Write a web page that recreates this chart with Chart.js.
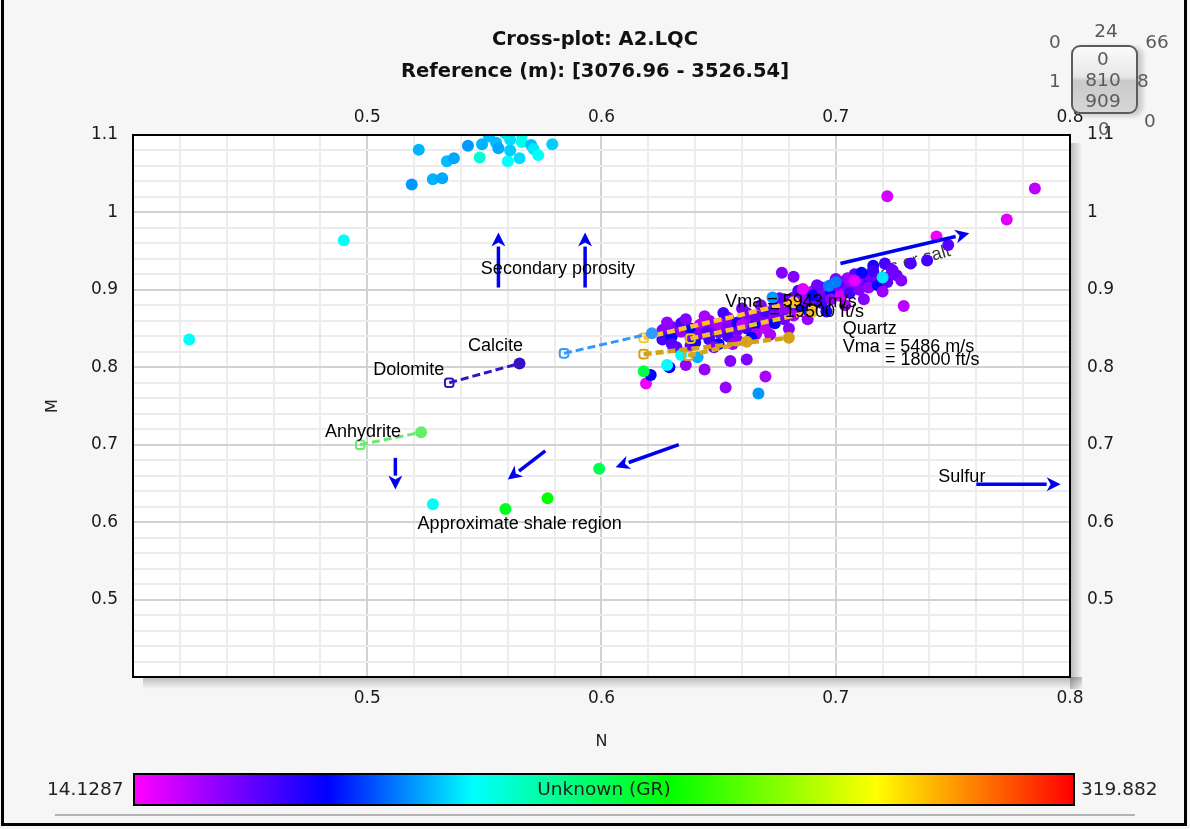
<!DOCTYPE html>
<html>
<head>
<meta charset="utf-8">
<script src="https://cdn.jsdelivr.net/npm/chart.js@4.4.1/dist/chart.umd.min.js"></script>
<style>
html, body { margin: 0; padding: 0; }
body { width: 1190px; height: 829px; background: #f6f6f6; position: relative; overflow: hidden; font-family: "DejaVu Sans", sans-serif; }
#chart { position: absolute; left: 0; top: 0; }
.frame { position: absolute; left: 1px; top: -4px; width: 1180px; height: 824px; border: 3px solid #000; }
.title { position: absolute; left: 0; width: 1190px; text-align: center; font-weight: bold; font-size: 19.5px; color: #111; }
.cbar { position: absolute; left: 133px; top: 773px; width: 938px; height: 29px; border: 2px solid #000; }
.cbar span { position: absolute; left: 0; width: 100%; top: 3px; text-align: center; font-size: 18.5px; color: #222; }
.cval { position: absolute; top: 778px; font-size: 18.5px; color: #222; }
.sep { position: absolute; left: 55px; top: 814px; width: 1080px; height: 2px; background: #b4b4b4; }
.knob { position: absolute; left: 1071px; top: 45px; width: 63px; height: 65px; border: 2px solid #5c5c5c; border-radius: 9px;
        background: linear-gradient(#fbfbfb 0%, #e6e6e6 46%, #c9c9c9 52%, #d6d6d6 100%); box-shadow: 5px 2px 5px rgba(0,0,0,0.18); }
.kn { position: absolute; font-size: 18.5px; color: #5a5a5a; transform: translate(-50%, -50%); white-space: nowrap; }
</style>
</head>
<body>
<canvas id="chart" width="1190" height="829"></canvas>
<div class="frame"></div>
<div class="title" style="top:27px">Cross-plot: A2.LQC</div>
<div class="title" style="top:59px">Reference (m): [3076.96 - 3526.54]</div>
<div class="cbar" id="cbar"><span>Unknown (GR)</span></div>
<div class="cval" style="left:47px">14.1287</div>
<div class="cval" style="left:1081px">319.882</div>
<div class="sep"></div>
<div class="knob"></div>
<div class="kn" style="left:1106px;top:30px">24</div>
<div class="kn" style="left:1055px;top:41px">0</div>
<div class="kn" style="left:1157px;top:41px">66</div>
<div class="kn" style="left:1055px;top:80px">1</div>
<div class="kn" style="left:1143px;top:80px">8</div>
<div class="kn" style="left:1150px;top:120px">0</div>
<div class="kn" style="left:1104px;top:128px">0</div>
<div class="kn" style="left:1103px;top:58px">0</div>
<div class="kn" style="left:1103px;top:79px">810</div>
<div class="kn" style="left:1103px;top:100px">909</div>
<script>
// ---------- colour scale (GR) ----------
const grMin = 14.1287;
const grMax = 319.882;
const cmapStops = [0, 0.205, 0.36, 0.57, 0.79, 1];
const cmapColors = [[255, 0, 255], [0, 0, 255], [0, 255, 255], [0, 255, 0], [255, 255, 0], [255, 0, 0]];

// ---------- axis ranges ----------
const nRange = [0.4, 0.8];
const mRange = [0.4, 1.1];

// ---------- log samples: N, M, GR ----------
const pointN = [
  // upper cluster
  0.522, 0.519, 0.528, 0.532, 0.534, 0.537, 0.543, 0.548, 0.549, 0.555, 0.556, 0.561, 0.560, 0.561, 0.566,
  0.565, 0.570, 0.571, 0.573, 0.579, 0.559, 0.566, 0.552, 0.490, 0.424,
  // shale region
  0.528, 0.559, 0.577, 0.599,
  // upper right
  0.722, 0.785, 0.773, 0.743, 0.748, 0.739, 0.732, 0.721, 0.716, 0.729,
  // main trend
  0.626, 0.626, 0.630, 0.630, 0.630, 0.634, 0.634, 0.638, 0.638, 0.638, 0.642, 0.642, 0.646, 0.646, 0.646,
  0.650, 0.650, 0.650, 0.654, 0.654, 0.654, 0.658, 0.658, 0.658, 0.662, 0.662, 0.662, 0.666, 0.666, 0.666,
  0.670, 0.670, 0.670, 0.674, 0.674, 0.674, 0.678, 0.678, 0.678, 0.682, 0.682, 0.682, 0.686, 0.686, 0.686,
  0.690, 0.690, 0.690, 0.694, 0.694, 0.694, 0.698, 0.698, 0.698, 0.702, 0.702, 0.702, 0.706, 0.706, 0.706,
  0.710, 0.710, 0.710, 0.714, 0.714, 0.714, 0.718, 0.718, 0.722, 0.722, 0.726,
  0.628, 0.632, 0.636, 0.640, 0.644, 0.648, 0.652, 0.656, 0.660, 0.664, 0.668, 0.672, 0.676, 0.680, 0.684,
  0.688, 0.692, 0.696, 0.700, 0.704, 0.708, 0.712, 0.716, 0.720, 0.724, 0.728, 0.690, 0.705, 0.660, 0.645,
  // scattered around the trend
  0.677, 0.682, 0.619, 0.621, 0.618, 0.629, 0.628, 0.636, 0.634, 0.641, 0.644, 0.655, 0.662, 0.670, 0.653,
  0.667, 0.711, 0.720, 0.700, 0.697, 0.708, 0.686, 0.673
];
const pointM = [
  1.081, 1.036, 1.043, 1.044, 1.066, 1.070, 1.086, 1.071, 1.088, 1.090, 1.083, 1.094, 1.066, 1.080, 1.091,
  1.070, 1.087, 1.082, 1.074, 1.088, 1.102, 1.100, 1.098, 0.964, 0.836,
  0.623, 0.617, 0.631, 0.669,
  1.021, 1.031, 0.991, 0.969, 0.958, 0.938, 0.934, 0.934, 0.931, 0.879,
  0.848, 0.836, 0.852, 0.840, 0.830, 0.846, 0.857, 0.838, 0.850, 0.828, 0.855, 0.843, 0.836, 0.850, 0.860,
  0.845, 0.830, 0.856, 0.852, 0.840, 0.864, 0.848, 0.858, 0.835, 0.862, 0.850, 0.870, 0.856, 0.843, 0.866,
  0.860, 0.872, 0.850, 0.868, 0.880, 0.857, 0.875, 0.862, 0.888, 0.878, 0.867, 0.890, 0.884, 0.872, 0.895,
  0.888, 0.878, 0.898, 0.893, 0.883, 0.903, 0.897, 0.888, 0.906, 0.900, 0.892, 0.910, 0.904, 0.896, 0.912,
  0.907, 0.900, 0.916, 0.910, 0.903, 0.919, 0.913, 0.906, 0.916, 0.910, 0.919,
  0.858, 0.826, 0.862, 0.832, 0.866, 0.826, 0.870, 0.830, 0.876, 0.838, 0.880, 0.842, 0.889, 0.850, 0.899,
  0.862, 0.906, 0.872, 0.914, 0.880, 0.920, 0.888, 0.924, 0.898, 0.926, 0.912, 0.893, 0.915, 0.855, 0.845,
  0.922, 0.917, 0.779, 0.790, 0.795, 0.800, 0.803, 0.803, 0.816, 0.813, 0.797, 0.808, 0.810, 0.788, 0.774,
  0.766, 0.922, 0.916, 0.910, 0.905, 0.912, 0.901, 0.890
];
const pointGR = [
  110, 105, 110, 108, 112, 108, 105, 135, 110, 112, 108, 118, 124, 115, 130,
  118, 112, 120, 126, 115, 120, 128, 112, 126, 126,
  126, 180, 190, 168,
  25, 30, 22, 18, 55, 60, 58, 60, 70, 30,
  45, 60, 45, 77, 55, 40, 60, 45, 77, 50, 30, 45, 60, 45, 40,
  50, 77, 35, 45, 60, 40, 50, 70, 45, 40, 60, 45, 77, 35, 50,
  45, 60, 30, 45, 55, 77, 40, 50, 45, 60, 35, 50, 45, 77, 40,
  55, 45, 30, 50, 60, 45, 77, 40, 50, 45, 25, 55, 45, 60, 40,
  50, 45, 35, 60, 40, 50, 45, 77, 45, 55, 50,
  40, 55, 45, 72, 35, 45, 60, 40, 50, 77, 45, 35, 55, 45, 60,
  40, 50, 72, 45, 35, 55, 45, 60, 40, 50, 45, 77, 40, 30, 55,
  45, 45, 18, 77, 170, 77, 124, 40, 124, 110, 40, 45, 45, 35, 40,
  105, 77, 120, 100, 100, 20, 20, 105
];

// ---------- lithology lines (open start -> filled end) ----------
const lithStartN = [0.535, 0.584, 0.497, 0.618, 0.638, 0.618, 0.637];
const lithStartM = [0.780, 0.818, 0.700, 0.838, 0.837, 0.817, 0.815];
const lithEndN = [0.565, 0.6215, 0.523, 0.682, 0.690, 0.680, 0.662];
const lithEndM = [0.805, 0.844, 0.716, 0.884, 0.872, 0.838, 0.833];
const lithColors = ['#3412c4', '#3399ff', '#66ee66', '#ffc125', '#f2bd2a', '#d4a017', '#d8a526'];
const lithWidths = [3, 3, 3, 4.5, 4.5, 4.5, 4.5];

// ---------- interpretation arrows ----------
const arrowFromN = [0.556, 0.593, 0.702, 0.512, 0.576, 0.633, 0.760];
const arrowFromM = [0.903, 0.903, 0.934, 0.683, 0.692, 0.700, 0.649];
const arrowToN = [0.556, 0.593, 0.757, 0.512, 0.560, 0.606, 0.796];
const arrowToM = [0.974, 0.974, 0.973, 0.642, 0.655, 0.671, 0.649];

// ---------- annotation text ----------
const labelText = ['Secondary porosity', 'Calcite', 'Dolomite', 'Anhydrite', 'Approximate shale region', 'Sulfur',
  'Quartz', 'Vma = 5486 m/s', '= 18000 ft/s', 'Vma = 5943 m/s', '= 19500 ft/s'];
const labelN = [0.5485, 0.543, 0.5026, 0.482, 0.5215, 0.7438, 0.703, 0.703, 0.721, 0.6528, 0.6717];
const labelM = [0.927, 0.827, 0.796, 0.717, 0.597, 0.658, 0.849, 0.826, 0.809, 0.884, 0.871];
const gasLabel = { text: 'Gas or salt', n: 0.731, m: 0.935 };

// ---------- helpers ----------
function grColor(v) {
  let f = (v - grMin) / (grMax - grMin);
  f = Math.max(0, Math.min(1, f));
  let i = 0;
  while (i < cmapStops.length - 2 && f > cmapStops[i + 1]) i++;
  const t = (f - cmapStops[i]) / (cmapStops[i + 1] - cmapStops[i]);
  const a = cmapColors[i], b = cmapColors[i + 1];
  const c = a.map((x, k) => Math.round(x + (b[k] - x) * t));
  return `rgb(${c[0]},${c[1]},${c[2]})`;
}

document.getElementById('cbar').style.background = 'linear-gradient(to right,' +
  cmapStops.map((s, i) => `rgb(${cmapColors[i].join(',')}) ${s * 100}%`).join(',') + ')';

const isMajor = v => Math.abs(v * 10 - Math.round(v * 10)) < 1e-6;
const tickLabel = v => (isMajor(v) && Math.abs(v - 0.4) > 1e-6) ? String(Math.round(v * 10) / 10) : '';

const tickFont = { family: 'DejaVu Sans', size: 17 };
const gridStyle = {
  color: ctx => isMajor(ctx.tick.value) ? '#d2d2d2' : '#ececec',
  lineWidth: 2,
  drawTicks: false
};

function axis(pos, range, pad, extra) {
  return Object.assign({
    type: 'linear',
    position: pos,
    min: range[0],
    max: range[1],
    border: { display: false },
    ticks: {
      stepSize: 0.02,
      autoSkip: false,
      maxTicksLimit: 100,
      maxRotation: 0,
      padding: pad,
      color: '#1a1a1a',
      font: tickFont,
      callback: tickLabel
    }
  }, extra);
}

// ---------- plugins ----------
const plotDecor = {
  id: 'plotDecor',
  beforeDraw(chart) {
    const { ctx, chartArea: a } = chart;
    ctx.save();
    let g = ctx.createLinearGradient(a.right, 0, a.right + 12, 0);
    g.addColorStop(0, 'rgba(0,0,0,0.25)');
    g.addColorStop(1, 'rgba(0,0,0,0)');
    ctx.fillStyle = g;
    ctx.fillRect(a.right, a.top + 8, 12, a.bottom - a.top + 4);
    g = ctx.createLinearGradient(0, a.bottom, 0, a.bottom + 12);
    g.addColorStop(0, 'rgba(0,0,0,0.25)');
    g.addColorStop(1, 'rgba(0,0,0,0)');
    ctx.fillStyle = g;
    ctx.fillRect(a.left + 10, a.bottom, a.right - a.left + 2, 12);
    ctx.fillStyle = '#ffffff';
    ctx.fillRect(a.left, a.top, a.right - a.left, a.bottom - a.top);
    ctx.restore();
  },
  afterDraw(chart) {
    const { ctx, chartArea: a } = chart;
    ctx.save();
    ctx.strokeStyle = '#000';
    ctx.lineWidth = 2;
    ctx.strokeRect(a.left, a.top, a.right - a.left, a.bottom - a.top);
    ctx.restore();
  }
};

const annotations = {
  id: 'annotations',
  beforeDatasetsDraw(chart) {
    const { ctx, scales: { x, y } } = chart;
    ctx.save();
    ctx.translate(x.getPixelForValue(gasLabel.n), y.getPixelForValue(gasLabel.m));
    ctx.rotate(-16 * Math.PI / 180);
    ctx.font = '18px "Liberation Sans"';
    ctx.fillStyle = '#3a3a3a';
    ctx.textAlign = 'center';
    ctx.textBaseline = 'middle';
    ctx.fillText(gasLabel.text, 0, 0);
    ctx.restore();
  },
  afterDatasetsDraw(chart) {
    const { ctx, scales: { x, y } } = chart;
    ctx.save();
    ctx.strokeStyle = '#0000f0';
    ctx.fillStyle = '#0000f0';
    ctx.lineWidth = 3.5;
    arrowFromN.forEach((n, i) => {
      const x0 = x.getPixelForValue(n), y0 = y.getPixelForValue(arrowFromM[i]);
      const x1 = x.getPixelForValue(arrowToN[i]), y1 = y.getPixelForValue(arrowToM[i]);
      const ang = Math.atan2(y1 - y0, x1 - x0);
      const len = 14, half = 7;
      const bx = x1 - len * Math.cos(ang), by = y1 - len * Math.sin(ang);
      ctx.beginPath();
      ctx.moveTo(x0, y0);
      ctx.lineTo(bx, by);
      ctx.stroke();
      ctx.beginPath();
      ctx.moveTo(x1, y1);
      ctx.lineTo(bx + half * Math.sin(ang), by - half * Math.cos(ang));
      ctx.lineTo(x1 - (len - 4) * Math.cos(ang), y1 - (len - 4) * Math.sin(ang));
      ctx.lineTo(bx - half * Math.sin(ang), by + half * Math.cos(ang));
      ctx.closePath();
      ctx.fill();
    });
    ctx.font = '18px "Liberation Sans"';
    ctx.fillStyle = '#000';
    ctx.textAlign = 'left';
    ctx.textBaseline = 'middle';
    labelText.forEach((t, i) => {
      ctx.fillText(t, x.getPixelForValue(labelN[i]), y.getPixelForValue(labelM[i]));
    });
    ctx.restore();
  }
};

// ---------- datasets ----------
const lithDatasets = lithStartN.map((n, i) => ({
  data: [{ x: n, y: lithStartM[i] }, { x: lithEndN[i], y: lithEndM[i] }],
  showLine: true,
  borderColor: lithColors[i],
  borderWidth: lithWidths[i],
  borderDash: [8, 4],
  pointStyle: ['rectRounded', 'circle'],
  pointRadius: [5, 6],
  pointBorderWidth: [2, 0],
  pointBorderColor: lithColors[i],
  pointBackgroundColor: ['rgba(255,255,255,0)', lithColors[i]],
  order: 0
}));

const sampleDataset = {
  data: pointN.map((n, i) => ({ x: n, y: pointM[i] })),
  pointRadius: 6,
  pointBorderWidth: 0,
  pointBackgroundColor: pointGR.map(grColor),
  clip: 0,
  order: 1
};

new Chart(document.getElementById('chart'), {
  type: 'scatter',
  data: { datasets: [...lithDatasets, sampleDataset] },
  options: {
    responsive: false,
    animation: false,
    events: [],
    layout: { padding: { left: 42, right: 0, top: 95, bottom: 60 } },
    plugins: { legend: { display: false }, tooltip: { enabled: false } },
    scales: {
      x: axis('bottom', nRange, 11, {
        grid: gridStyle,
        title: { display: true, text: 'N', color: '#222', font: { family: 'DejaVu Sans', size: 16 }, padding: { top: 0, bottom: 18 } },
        afterFit: s => { s.height = 92; }
      }),
      x2: axis('top', nRange, -1, {
        grid: { display: false },
        afterFit: s => { s.height = 40; }
      }),
      y: axis('left', mRange, 15, {
        grid: gridStyle,
        title: { display: true, text: 'M', color: '#222', font: { family: 'DejaVu Sans', size: 16 }, padding: { top: 1, bottom: 0 } },
        afterFit: s => { s.width = 91; }
      }),
      y2: axis('right', mRange, 9, {
        grid: { display: false },
        afterFit: s => { s.width = 120; }
      })
    }
  },
  plugins: [plotDecor, annotations]
});
</script>
</body>
</html>
